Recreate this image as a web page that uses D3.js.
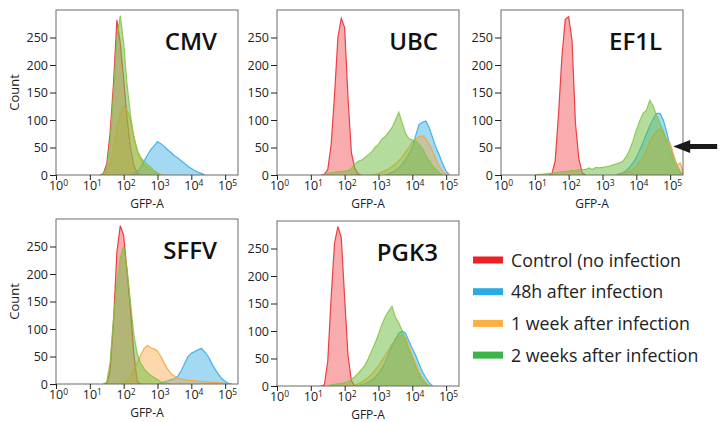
<!DOCTYPE html>
<html>
<head>
<meta charset="utf-8">
<script src="https://cdn.jsdelivr.net/npm/d3@7"></script>
<style>
  body { margin: 0; background: #fff; }
  svg { font-family: "Open Sans", "Noto Sans", sans-serif; }
</style>
</head>
<body>
<script>
// histogram bins are 0.1 decade wide on the GFP-A axis
const binWidth = 0.1;

const seriesNames = ["Control (no infection", "48h after infection", "1 week after infection", "2 weeks after infection"];
const legendColors = ["#ed2024", "#29abe2", "#fbb040", "#39b54a"];
const lineColors = ["#e8262c", "#29abe2", "#f8a132", "#84c441"];
const fillColors = ["#ee3a3f", "#34aee3", "#f9a43a", "#6fbe44"];
const fillOpacity = [0.42, 0.45, 0.42, 0.52];

const promoters = ["CMV", "UBC", "EF1L", "SFFV", "PGK3"];

const xTicks = [1, 10, 100, 1e3, 1e4, 1e5];
const yTicks = [0, 50, 100, 150, 200, 250];

// first bin (log10 GFP-A) for control, 48h, 1 week, 2 weeks
const cmvFrom = [1.3, 2.2, 1.4, 1.3];
const cmvControl = [0, 3, 20, 77, 167, 282, 240, 175, 105, 50, 18, 4, 0];
const cmv48h = [0, 2, 6, 14, 25, 36, 46, 53, 61, 57, 52, 46, 41, 35, 31, 26, 21, 16, 12, 8, 5, 3, 0];
const cmv1wk = [0, 5, 20, 50, 85, 112, 125, 118, 100, 70, 45, 30, 18, 12, 8, 5, 3, 1, 0];
const cmv2wk = [0, 2, 12, 60, 150, 250, 290, 240, 165, 110, 70, 45, 32, 25, 19, 14, 8, 4, 0];

const ubcFrom = [1.3, 3.2, 2.8, 1.4];
const ubcControl = [0, 1, 10, 55, 145, 250, 285, 268, 140, 40, 12, 2, 0];
const ubc48h = [0, 2, 5, 8, 13, 20, 28, 38, 50, 72, 92, 96, 98, 86, 68, 50, 36, 20, 7, 0];
const ubc1wk = [0, 1, 3, 5, 8, 11, 15, 20, 26, 33, 42, 50, 60, 66, 70, 71, 66, 56, 44, 28, 15, 6, 1, 0];
const ubc2wk = [0, 3, 4, 5, 6, 6, 7, 8, 12, 20, 25, 27, 32, 37, 42, 50, 56, 65, 70, 78, 86, 100, 114, 95, 76, 66, 64, 62, 56, 48, 36, 26, 17, 10, 4, 0];

const ef1lFrom = [1.4, 3.4, 3.4, 1.0];
const ef1lControl = [0, 1, 25, 110, 215, 283, 288, 245, 95, 30, 4, 0];
const ef1l48h = [0, 2, 4, 8, 14, 22, 32, 45, 60, 75, 90, 102, 112, 112, 100, 78, 52, 32, 18, 6, 0];
const ef1l1wk = [0, 2, 3, 5, 7, 10, 16, 24, 34, 46, 60, 72, 80, 84, 76, 64, 58, 38, 18, 22, 0];
const ef1l2wk = [0, 1, 1, 2, 3, 3, 4, 5, 6, 6, 7, 8, 8, 9, 10, 10, 13, 10, 14, 13, 14, 15, 16, 18, 20, 22, 25, 33, 45, 62, 82, 98, 112, 118, 136, 125, 108, 94, 80, 62, 42, 25, 12, 4, 0];

const sffvFrom = [1.4, 3.0, 1.9, 1.4];
const sffvControl = [0, 1, 25, 115, 240, 288, 270, 205, 138, 55, 5, 0];
const sffv48h = [0, 2, 4, 6, 8, 10, 14, 24, 37, 50, 56, 59, 62, 65, 58, 50, 38, 27, 18, 10, 5, 1, 0];
const sffv1wk = [0, 2, 6, 14, 25, 38, 52, 64, 70, 66, 64, 60, 50, 38, 27, 19, 14, 11, 9, 8, 7, 6, 6, 5, 5, 4, 4, 3, 3, 2, 2, 1, 0];
const sffv2wk = [0, 3, 40, 120, 182, 230, 250, 210, 150, 90, 55, 38, 28, 21, 16, 12, 8, 4, 2, 1, 0];

const pgk3From = [1.3, 2.4, 2.2, 1.5];
const pgk3Control = [0, 2, 45, 160, 260, 290, 270, 160, 55, 10, 0];
const pgk348h = [0, 2, 4, 7, 11, 16, 23, 32, 44, 58, 72, 86, 96, 100, 96, 82, 68, 56, 40, 26, 15, 6, 0];
const pgk31wk = [0, 2, 4, 7, 11, 16, 22, 29, 37, 46, 56, 66, 76, 84, 90, 93, 88, 72, 56, 40, 26, 14, 6, 0];
const pgk32wk = [0, 2, 3, 4, 5, 6, 8, 12, 17, 23, 30, 38, 50, 64, 78, 94, 112, 126, 136, 145, 125, 115, 100, 84, 66, 51, 35, 22, 12, 4, 0];

// table used for drawing, built from the arrays above
const panelData = [
  { from: cmvFrom, series: [cmvControl, cmv48h, cmv1wk, cmv2wk] },
  { from: ubcFrom, series: [ubcControl, ubc48h, ubc1wk, ubc2wk] },
  { from: ef1lFrom, series: [ef1lControl, ef1l48h, ef1l1wk, ef1l2wk] },
  { from: sffvFrom, series: [sffvControl, sffv48h, sffv1wk, sffv2wk] },
  { from: pgk3From, series: [pgk3Control, pgk348h, pgk31wk, pgk32wk] }
];

// panel placement
const W = 182, H = 165;
const panelPos = [[56, 10], [277, 10], [501, 10], [56, 219], [277, 221]];

const svg = d3.select("body").append("svg")
  .attr("width", 722)
  .attr("height", 422);

const x = d3.scaleLog().domain([1, Math.pow(10, 5.38)]).range([0, W]);
const y = d3.scaleLinear().domain([0, 300]).range([H, 0]);

const area = d3.area().x(d => x(d[0])).y0(H).y1(d => y(d[1]));
const line = d3.line().x(d => x(d[0])).y(d => y(d[1]));

// turn a count array into [GFP-A, count] points
function toPoints(from, counts) {
  return counts.map((c, i) => [Math.pow(10, from + i * binWidth), c]);
}

promoters.forEach((name, p) => {
  const [px, py] = panelPos[p];
  const g = svg.append("g").attr("transform", `translate(${px},${py})`);

  g.append("clipPath").attr("id", "clip" + p)
    .append("rect").attr("width", W).attr("height", H);

  const plot = g.append("g").attr("clip-path", `url(#clip${p})`);

  // control, 48h, 1 week, then 2 weeks on top
  panelData[p].series.forEach((counts, s) => {
    const pts = toPoints(panelData[p].from[s], counts);
    plot.append("path")
      .attr("d", area(pts))
      .attr("fill", fillColors[s])
      .attr("fill-opacity", fillOpacity[s]);
    plot.append("path")
      .attr("d", line(pts))
      .attr("fill", "none")
      .attr("stroke", lineColors[s])
      .attr("stroke-width", 1.2)
      .attr("stroke-opacity", 0.85);
  });

  // frame
  g.append("rect")
    .attr("width", W).attr("height", H)
    .attr("fill", "none")
    .attr("stroke", "#6b6b6b")
    .attr("stroke-width", 1);

  // y axis
  g.append("g")
    .call(d3.axisLeft(y).tickValues(yTicks).tickSize(6).tickPadding(2))
    .attr("font-size", 12.5)
    .attr("font-family", null)
    .attr("color", "#222")
    .call(a => a.select(".domain").remove());

  // x axis with 10^n labels
  g.append("g")
    .attr("transform", `translate(0,${H})`)
    .call(d3.axisBottom(x).tickValues(xTicks).tickSize(5).tickPadding(1).tickFormat(() => "10"))
    .attr("font-size", 12.5)
    .attr("font-family", null)
    .attr("color", "#222")
    .call(a => a.select(".domain").remove())
    .call(a => a.selectAll(".tick text")
      .attr("dx", 2)
      .append("tspan")
      .attr("dy", "-0.45em")
      .attr("font-size", 8.5)
      .text(d => Math.round(Math.log10(d))));

  g.append("text")
    .attr("x", W / 2).attr("y", H + 33)
    .attr("text-anchor", "middle")
    .attr("font-size", 12)
    .attr("fill", "#222")
    .text("GFP-A");

  if (px < 100) {
    g.append("text")
      .attr("transform", `translate(${-37},${H / 2}) rotate(-90)`)
      .attr("text-anchor", "middle")
      .attr("font-size", 13)
      .attr("fill", "#222")
      .text("Count");
  }

  g.append("text")
    .attr("x", W - 21).attr("y", 40)
    .attr("text-anchor", "end")
    .attr("font-size", 24)
    .attr("font-weight", 600)
    .attr("fill", "#111")
    .text(name);

  // arrow marking the 1 week tail in EF1L
  if (name === "EF1L") {
    const tx = x(Math.pow(10, 5.09)), ty = y(52);
    g.append("path")
      .attr("d", `M${tx},${ty} L${tx + 17},${ty - 6.5} L${tx + 17},${ty - 2.5} L${tx + 44},${ty - 2.5} L${tx + 44},${ty + 2.5} L${tx + 17},${ty + 2.5} L${tx + 17},${ty + 6.5} Z`)
      .attr("fill", "#1a1a1a");
  }
});

// legend
const legend = svg.append("g").attr("transform", "translate(473,260)");
seriesNames.forEach((label, i) => {
  const row = legend.append("g").attr("transform", `translate(0,${i * 31.7})`);
  row.append("rect")
    .attr("x", 0).attr("y", -3.5)
    .attr("width", 30).attr("height", 7)
    .attr("fill", legendColors[i]);
  row.append("text")
    .attr("x", 38).attr("y", 6.5)
    .attr("font-size", 17.8)
    .attr("fill", "#222")
    .text(label);
});
</script>
</body>
</html>
